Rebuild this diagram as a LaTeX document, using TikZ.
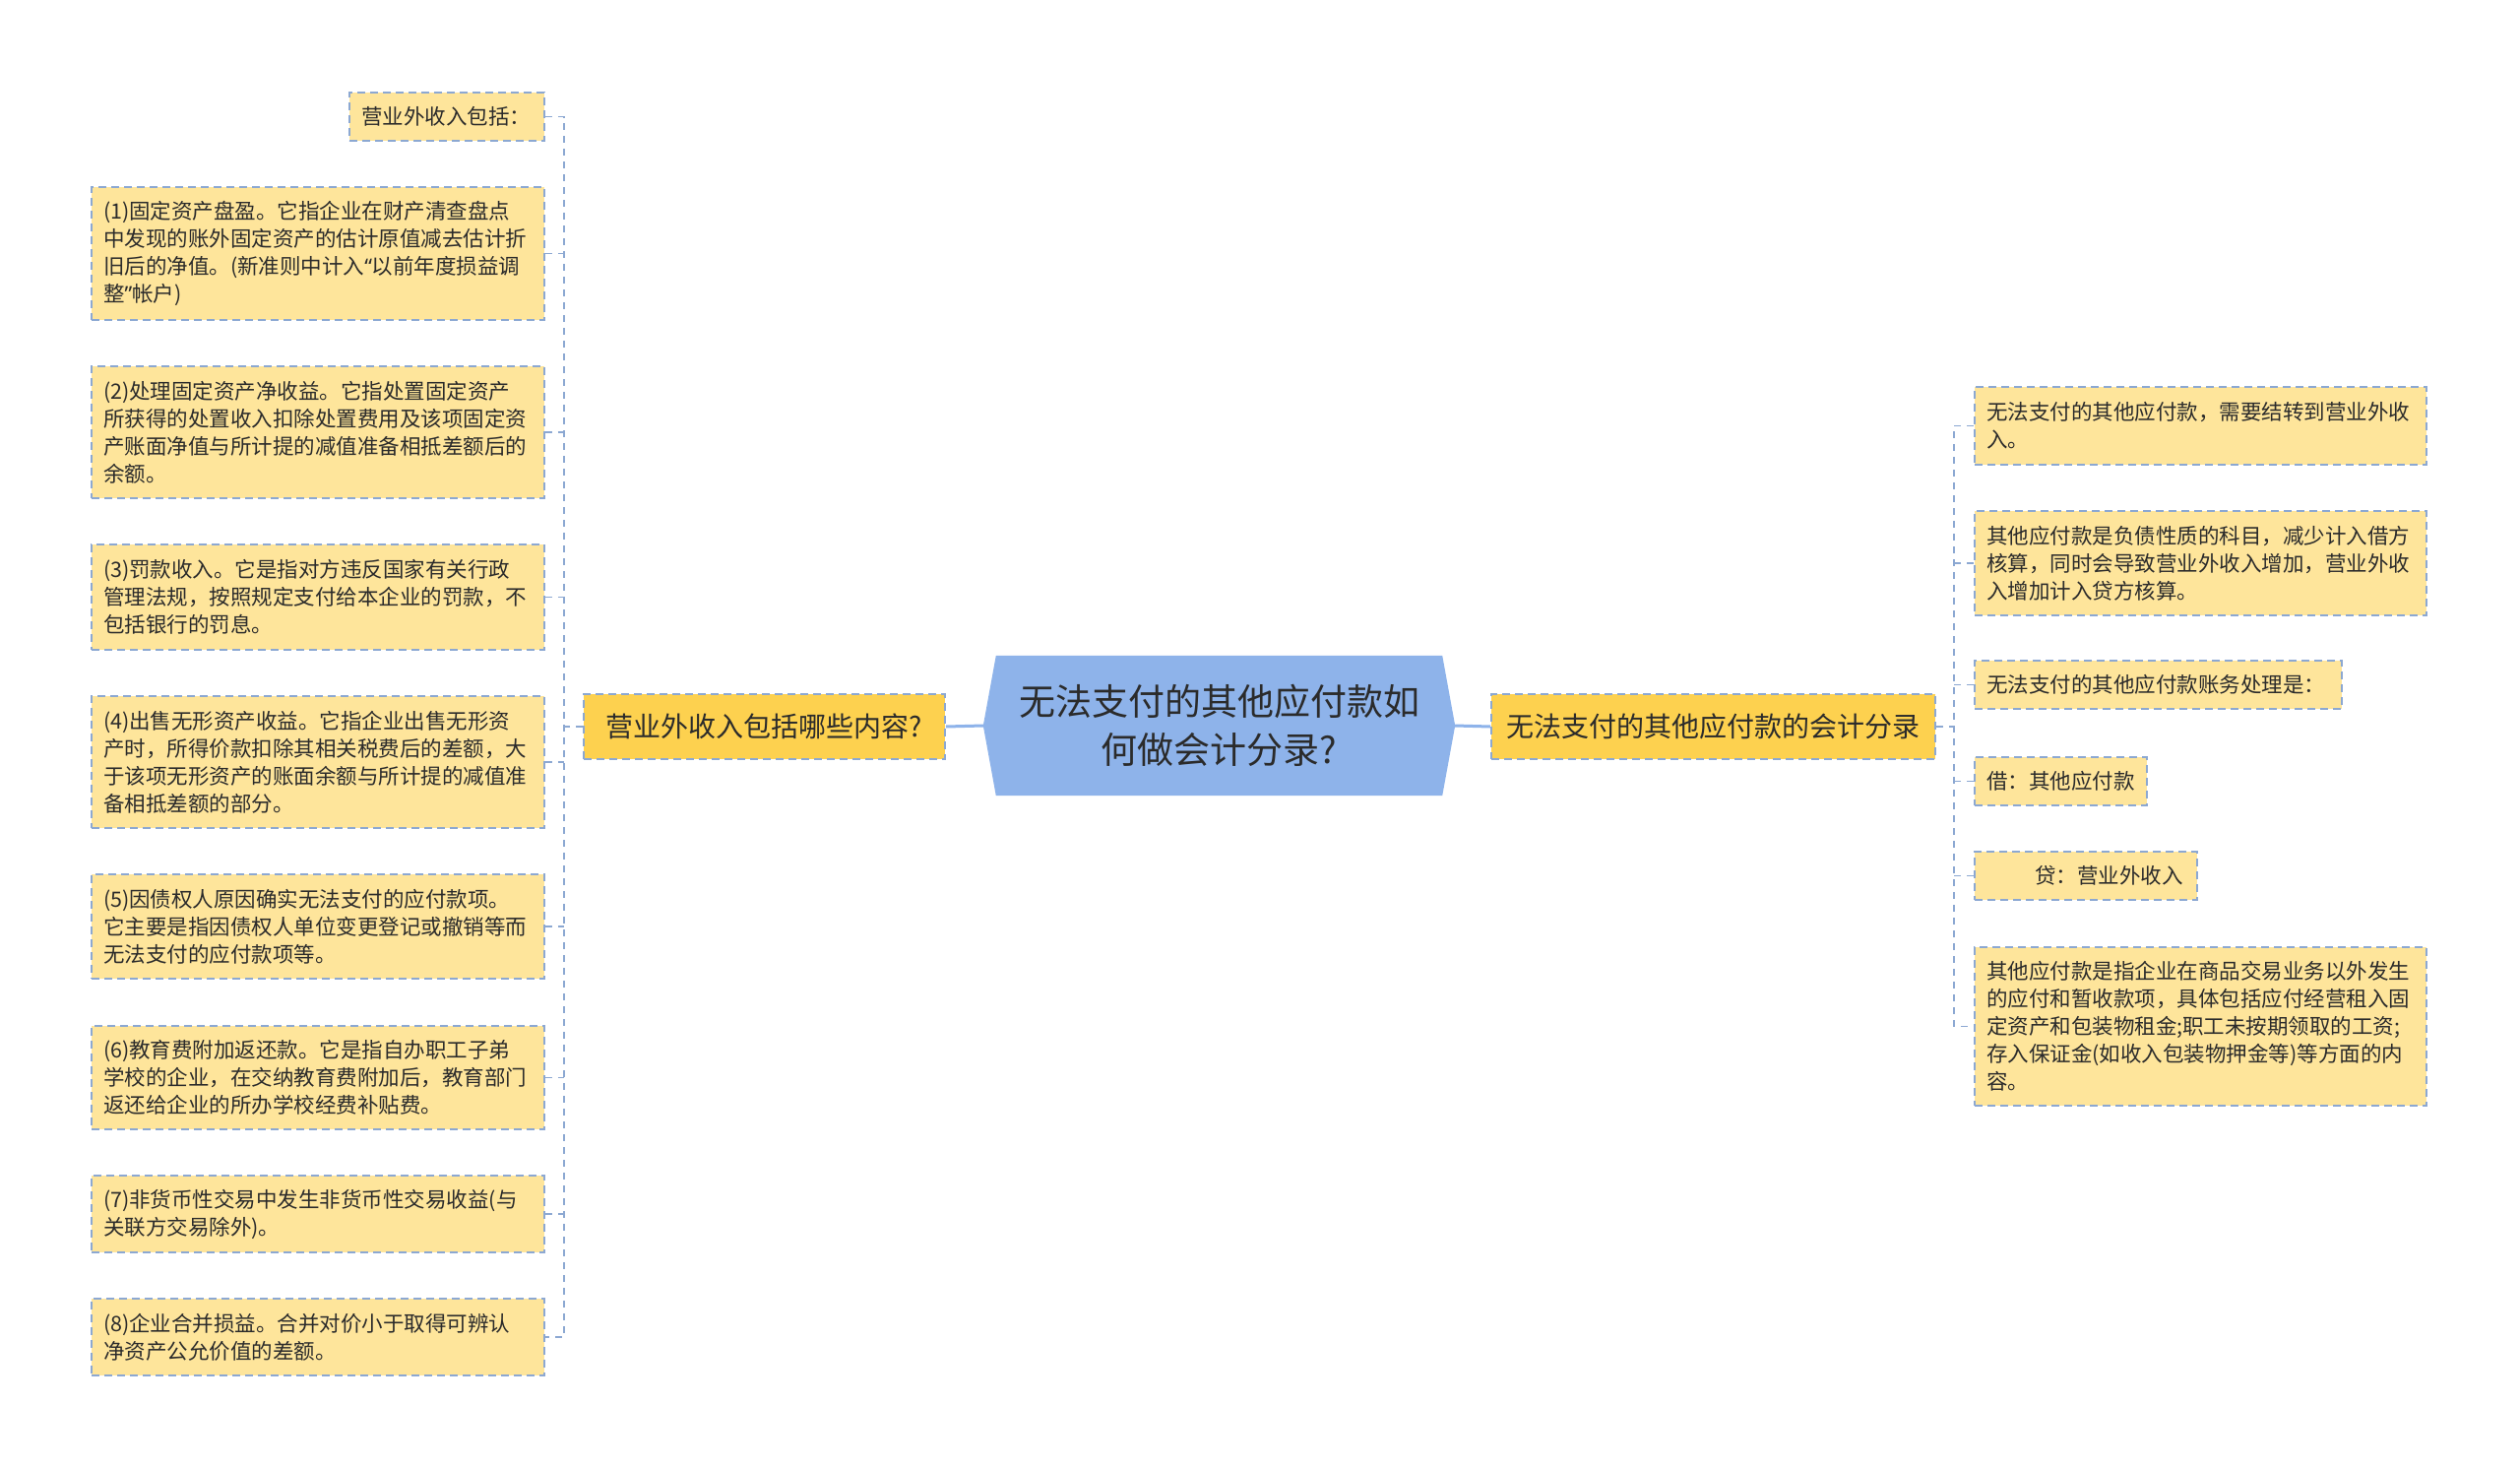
\documentclass[tikz,border=0pt]{standalone}
\usepackage{fontspec}
\setmainfont{Noto Sans CJK SC}
\newfontfamily\latinq{Noto Sans}
\usetikzlibrary{backgrounds}
\definecolor{leaf}{HTML}{FEE59B}
\definecolor{mainy}{HTML}{FDD14F}
\definecolor{rootb}{HTML}{8EB3EA}
\definecolor{edgec}{HTML}{8CA8D2}
\definecolor{txt}{HTML}{2B2B2B}
\begin{document}
\begin{tikzpicture}[x=1pt,y=-1pt,
  box/.style={draw=edgec, fill=leaf, dash pattern=on 8pt off 5pt, line width=1.6pt,
    rectangle, inner xsep=12pt, inner ysep=0pt, align=left, text=txt,
    font=\fontsize{21.5}{28}\selectfont},
  lbox/.style={box, text width=436pt},
  mainbox/.style={draw=edgec, fill=mainy, dash pattern=on 8pt off 5pt, line width=1.6pt,
    rectangle, inner sep=0pt, text=txt, font=\fontsize{28}{34}\selectfont, minimum height=66pt},
  conn/.style={draw=edgec, dash pattern=on 7pt off 6pt, line width=1.6pt},
  rootconn/.style={draw=rootb, line width=3pt}]
\useasboundingbox (0,0) rectangle (2560,1491);

% root
\node[text=txt, font=\fontsize{37}{49}\selectfont, align=center, text width=440pt,
  minimum width=479pt, minimum height=142pt, inner sep=0pt] (root) at (1238.5,737)
  {无法支付的其他应付款如\\何做会计分录?};
\begin{pgfonlayer}{background}
\fill[rootb] (root.west) -- ([xshift=13pt]root.north west) -- ([xshift=-13pt]root.north east)
  -- (root.east) -- ([xshift=-13pt]root.south east) -- ([xshift=13pt]root.south west) -- cycle;
\end{pgfonlayer}

% main nodes
\node[mainbox, minimum width=367pt] (LM) at (776.5,738) {营业外收入包括哪些内容?};
\node[mainbox, minimum width=451pt] (RM) at (1740.5,738) {无法支付的其他应付款的会计分录};

% left leaves
\node[box, text width=174pt, minimum height=49pt] (T0) at (454,118.5) {营业外收入包括：};
\node[lbox, minimum height=135pt] (L1) at (323,257.5) {(1)固定资产盘盈。它指企业在财产清查盘点\\中发现的账外固定资产的估计原值减去估计折\\旧后的净值。(新准则中计入{\latinq “}以前年度损益调\\整{\latinq ”}帐户)};
\node[lbox, minimum height=134pt] (L2) at (323,439) {(2)处理固定资产净收益。它指处置固定资产\\所获得的处置收入扣除处置费用及该项固定资\\产账面净值与所计提的减值准备相抵差额后的\\余额。};
\node[lbox, minimum height=107pt] (L3) at (323,606.5) {(3)罚款收入。它是指对方违反国家有关行政\\管理法规，按照规定支付给本企业的罚款，不\\包括银行的罚息。};
\node[lbox, minimum height=134pt] (L4) at (323,774) {(4)出售无形资产收益。它指企业出售无形资\\产时，所得价款扣除其相关税费后的差额，大\\于该项无形资产的账面余额与所计提的减值准\\备相抵差额的部分。};
\node[lbox, minimum height=106pt] (L5) at (323,941) {(5)因债权人原因确实无法支付的应付款项。\\它主要是指因债权人单位变更登记或撤销等而\\无法支付的应付款项等。};
\node[lbox, minimum height=105pt] (L6) at (323,1094.5) {(6)教育费附加返还款。它是指自办职工子弟\\学校的企业，在交纳教育费附加后，教育部门\\返还给企业的所办学校经费补贴费。};
\node[lbox, minimum height=78pt] (L7) at (323,1233) {(7)非货币性交易中发生非货币性交易收益(与\\关联方交易除外)。};
\node[lbox, minimum height=78pt] (L8) at (323,1358) {(8)企业合并损益。合并对价小于取得可辨认\\净资产公允价值的差额。};

% right leaves
\node[lbox, text width=435pt, minimum height=79pt] (R1) at (2235.5,432.5) {无法支付的其他应付款，需要结转到营业外收\\入。};
\node[lbox, text width=435pt, minimum height=106pt] (R2) at (2235.5,572) {其他应付款是负债性质的科目，减少计入借方\\核算，同时会导致营业外收入增加，营业外收\\入增加计入贷方核算。};
\node[box, text width=349pt, minimum height=49pt] (R3) at (2192.5,695.5) {无法支付的其他应付款账务处理是：};
\node[box, text width=151pt, minimum height=49pt] (R4) at (2093.5,793.5) {借：其他应付款};
\node[box, text width=202pt, minimum height=49pt] (R5) at (2119,889.5) {\hspace*{49pt}贷：营业外收入};
\node[lbox, text width=435pt, minimum height=161pt] (R6) at (2235.5,1042.5) {其他应付款是指企业在商品交易业务以外发生\\的应付和暂收款项，具体包括应付经营租入固\\定资产和包装物租金;职工未按期领取的工资;\\存入保证金(如收入包装物押金等)等方面的内\\容。};

% bus coordinates
\coordinate (lbus) at (573,738);
\coordinate (rbus) at (1985,738);

% root connectors
\draw[rootconn] (root.west) -- (LM.east);
\draw[rootconn] (root.east) -- (RM.west);

% left connectors
\draw[conn] (LM.west) -- (lbus);
\draw[conn] (T0.east) -- (T0.east -| lbus) -- (L8.east -| lbus) -- (L8.east);
\foreach \n in {L1,L2,L3,L4,L5,L6,L7} {
  \draw[conn] (\n.east) -- (\n.east -| lbus);
}

% right connectors
\draw[conn] (RM.east) -- (rbus);
\draw[conn] (R1.west) -- (R1.west -| rbus) -- (R6.west -| rbus) -- (R6.west);
\foreach \n in {R2,R3,R4,R5} {
  \draw[conn] (\n.west) -- (\n.west -| rbus);
}
\end{tikzpicture}
\end{document}
